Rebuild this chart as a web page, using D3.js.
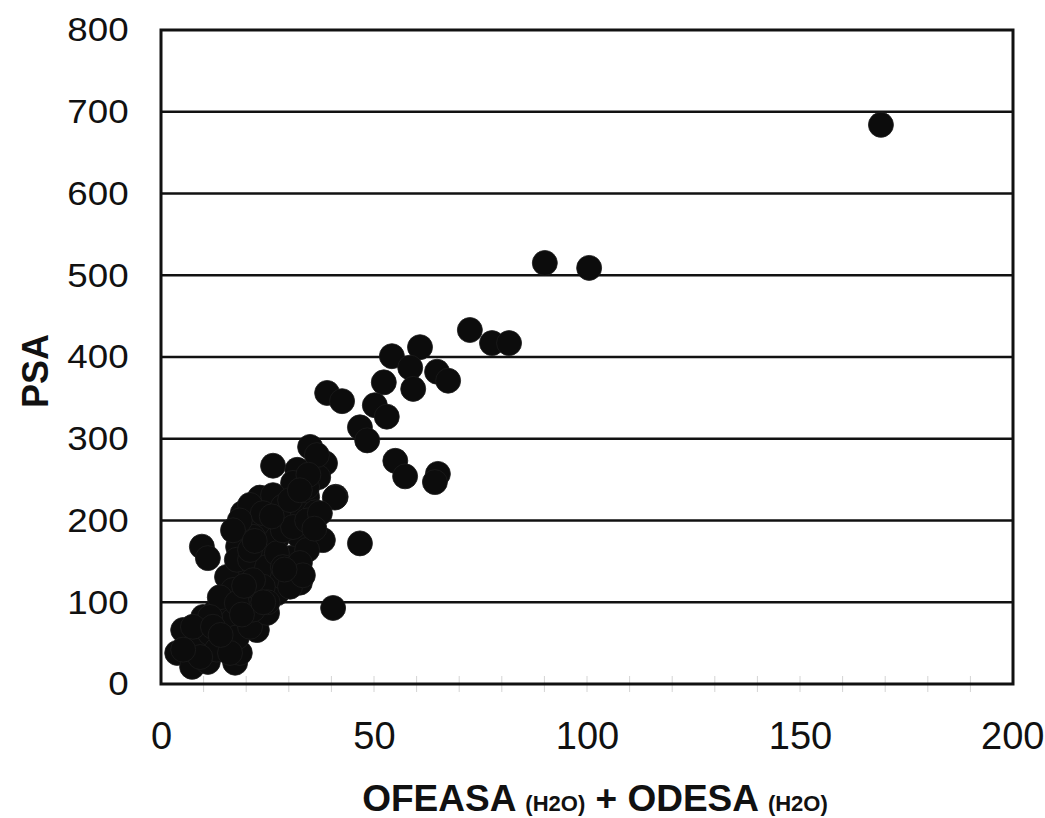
<!DOCTYPE html>
<html>
<head>
<meta charset="utf-8">
<script src="https://cdn.jsdelivr.net/npm/d3@7"></script>
<style>
  body { margin: 0; background: #fff; }
  text { font-family: "Liberation Sans", Arial, sans-serif; fill: #111; }
</style>
</head>
<body>
<svg width="1045" height="818"></svg>
<script>
// x = OFEASA(H2O) + ODESA(H2O), y = PSA
const xVals = [169, 90.1, 100.5, 72.5, 77.7, 81.7, 54.2, 60.8, 58.5, 64.8, 67.4, 52.3, 59.2, 39, 42.5,
  50.2, 46.7, 53, 48.4, 55, 57.3, 65, 64.3, 46.7, 40.4, 41, 38, 26.3,
  35, 38.5, 32, 31, 36.9, 40.8, 34.3, 23.2, 26.3, 19.2, 20.9, 28.6, 33.3, 36.2,
  9.6, 11, 18.1, 23.9, 27.2, 32.6, 30.3, 23.2, 32.6, 18.5, 25.6, 20.9, 27.2, 15.5,
  22.5, 9.9, 13.1, 5.2, 3.8, 7.3, 11, 17.4, 14.6, 18.5, 8.5, 11.5, 16.9, 20.2,
  15.5, 17.8, 20.9, 24.9, 28.6, 30.3, 23.9, 16.9, 13.8, 11.5, 7.5, 17.8, 20.9,
  13.1, 9.2, 5.2, 16.2, 12.2, 24.9, 21.6, 27.2, 28.6, 21.6, 31, 34.3, 23.9, 30.3,
  34.3, 18.5, 16.9, 20.9, 34.3, 28.6, 32.6, 21.6, 17.8, 33.3, 36.6, 34.6, 37.3,
  32.6, 36, 14, 19, 25, 29, 22, 26, 19.5, 24];
const yVals = [684, 515, 509, 433, 417, 417, 401, 412, 387, 382, 371, 369, 361, 356, 346,
  341, 314, 327, 298, 273, 254, 257, 247, 172, 93, 229, 176, 267,
  290, 270, 262, 246, 253, 228, 229, 228, 231, 209, 219, 217, 207, 210,
  168, 154, 168, 192, 178, 180, 154, 158, 124, 136, 131, 111, 111, 103,
  66, 82, 91, 66, 38, 21, 27, 26, 50, 38, 50, 62, 78, 94,
  131, 152, 152, 143, 131, 119, 119, 115, 106, 82, 70, 57, 70,
  42, 33, 42, 38, 70, 87, 91, 160, 188, 180, 192, 200, 209, 225,
  241, 200, 188, 164, 164, 143, 148, 127, 99, 133, 280, 256, 209,
  237, 190, 60, 85, 100, 140, 175, 205, 120, 100];

const xTicks = [0, 50, 100, 150, 200];
const yTicks = [0, 100, 200, 300, 400, 500, 600, 700, 800];

const svg = d3.select('svg'),
      margin = {top: 30, right: 32, bottom: 134, left: 161},
      width = +svg.attr('width') - margin.left - margin.right,
      height = +svg.attr('height') - margin.top - margin.bottom,
      g = svg.append('g').attr('transform', 'translate(' + margin.left + ',' + margin.top + ')');

const x = d3.scaleLinear().domain([0, 200]).range([0, width]);
const y = d3.scaleLinear().domain([0, 800]).range([height, 0]);

// horizontal grid lines
g.append('g')
    .selectAll('line')
    .data(yTicks.slice(1, -1))
    .join('line')
      .attr('x1', 0)
      .attr('x2', width)
      .attr('y1', d => y(d))
      .attr('y2', d => y(d))
      .attr('stroke', '#111')
      .attr('stroke-width', 2.5);

// faint minor ticks along the bottom
g.append('g')
    .selectAll('line')
    .data(d3.range(10, 200, 10))
    .join('line')
      .attr('x1', d => x(d))
      .attr('x2', d => x(d))
      .attr('y1', height + 8)
      .attr('y2', height - 8)
      .attr('stroke', '#d4d4d4')
      .attr('stroke-width', 1);

// points
g.append('g')
    .selectAll('circle')
    .data(xVals.map((v, i) => [v, yVals[i]]))
    .join('circle')
      .attr('cx', d => x(d[0]))
      .attr('cy', d => y(d[1]))
      .attr('r', 12.5)
      .attr('fill', '#0c0c0c')
      .attr('stroke', '#1c1c1c')
      .attr('stroke-width', 0.8);

// frame
g.append('rect')
    .attr('width', width)
    .attr('height', height)
    .attr('fill', 'none')
    .attr('stroke', '#111')
    .attr('stroke-width', 3);

// axes
const xAxis = g.append('g')
    .attr('transform', 'translate(0,' + height + ')')
    .call(d3.axisBottom(x).tickValues(xTicks).tickSize(0).tickPadding(38));
xAxis.select('.domain').remove();
xAxis.selectAll('text')
    .attr('font-size', 38)
    .attr('font-family', '"Liberation Sans", Arial, sans-serif')
    .attr('fill', '#111');
// keep the last label inside the page
xAxis.selectAll('text').filter(d => d === 200).attr('text-anchor', 'end').attr('dx', 31);

const yAxis = g.append('g')
    .call(d3.axisLeft(y).tickValues(yTicks).tickSize(0).tickPadding(30));
yAxis.select('.domain').remove();
yAxis.selectAll('text')
    .attr('font-size', 34)
    .attr('font-family', '"Liberation Sans", Arial, sans-serif')
    .attr('fill', '#111')
    .attr('transform', 'scale(1.08,1)');

// axis titles
const xTitle = svg.append('text')
    .attr('x', margin.left + width / 2 + 8)
    .attr('y', 811)
    .attr('text-anchor', 'middle')
    .attr('font-weight', 'bold')
    .attr('font-size', 37);
xTitle.append('tspan').text('OFEASA ');
xTitle.append('tspan').attr('font-size', 22).text('(H2O)');
xTitle.append('tspan').text(' + ODESA ');
xTitle.append('tspan').attr('font-size', 22).text('(H2O)');

svg.append('text')
    .attr('transform', 'translate(48,' + (margin.top + height / 2 + 14) + ') rotate(-90)')
    .attr('text-anchor', 'middle')
    .attr('font-weight', 'bold')
    .attr('font-size', 36)
    .text('PSA');
</script>
</body>
</html>
